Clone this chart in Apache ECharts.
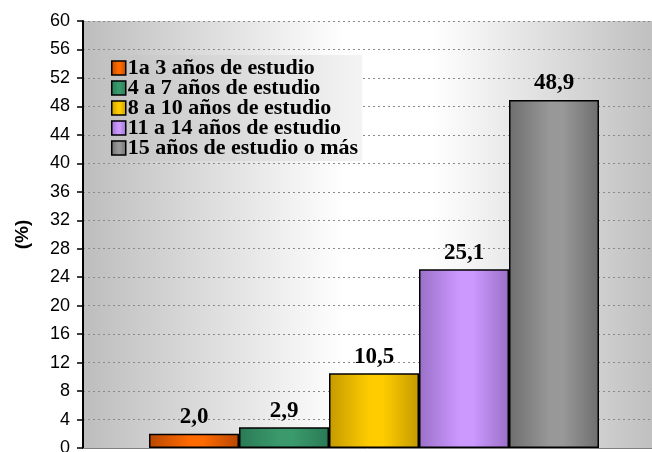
<!DOCTYPE html>
<html>
<head>
<meta charset="utf-8">
<script src="https://cdn.jsdelivr.net/npm/echarts@6/dist/echarts.min.js"></script>
<style>
	html, body { margin: 0; padding: 0; background: #fff; }
	#chart { width: 652px; height: 452px; }
</style>
</head>
<body>
<div id="chart"></div>
<script>
	// datos
	var categorias = ['1a 3 años de estudio', '4 a 7 años de estudio', '8 a 10 años de estudio', '11 a 14 años de estudio', '15 años de estudio o más'];
	var valores = [2.0, 2.9, 10.5, 25.1, 48.9];
	var ticksY = [0, 4, 8, 12, 16, 20, 24, 28, 32, 36, 40, 44, 48, 52, 56, 60];

	// colores: [borde oscuro, centro claro]
	var colores = [
		['#b84800', '#ff6a00'],
		['#2a7a55', '#3a9a6c'],
		['#c49a00', '#ffcc00'],
		['#9a70c8', '#cc99ff'],
		['#6e6e6e', '#989898']
	];

	function gradiente(c){
		return new echarts.graphic.LinearGradient(0, 0, 1, 0, [
			{ offset: 0, color: c[0] },
			{ offset: 0.45, color: c[1] },
			{ offset: 0.6, color: c[1] },
			{ offset: 1, color: c[0] }
		]);
	}

	var chart = echarts.init(document.getElementById('chart'));

	var series = categorias.map(function(nombre, i){
		return {
			name: nombre,
			type: 'bar',
			barWidth: 90,
			barGap: '0%',
			data: [valores[i]],
			itemStyle: {
				color: gradiente(colores[i]),
				borderColor: '#000',
				borderWidth: 1.5
			},
			label: {
				show: true,
				position: 'top',
				distance: 5,
				formatter: function(p){ return p.value.toFixed(1).replace('.', ','); },
				fontFamily: 'Liberation Serif',
				fontWeight: 'bold',
				fontSize: 23,
				color: '#000'
			}
		};
	});

	chart.setOption({
		animation: false,
		grid: {
			left: 83,
			top: 21,
			width: 582,
			bottom: 4,
			outerBoundsMode: 'none',
			containLabel: false,
			show: true,
			borderWidth: 0,
			backgroundColor: new echarts.graphic.LinearGradient(0, 0, 1, 0, [
				{ offset: 0, color: '#bdbdbd' },
				{ offset: 0.45, color: '#ffffff' },
				{ offset: 0.6, color: '#ffffff' },
				{ offset: 1, color: '#bcbcbc' }
			])
		},
		legend: {
			orient: 'vertical',
			left: 108,
			top: 55,
			icon: 'rect',
			itemWidth: 14,
			itemHeight: 14,
			itemGap: -2,
			padding: [2, 4, 2, 3],
			backgroundColor: new echarts.graphic.LinearGradient(0, 0, 1, 0, [
				{ offset: 0, color: '#c2c2c2' },
				{ offset: 1, color: '#f4f4f4' }
			]),
			data: categorias,
			textStyle: {
				fontFamily: 'Liberation Serif',
				fontWeight: 'bold',
				fontSize: 22,
				color: '#000',
				padding: [0, 0, 0, -3]
			},
			itemStyle: { borderColor: '#000', borderWidth: 1.5 }
		},
		xAxis: {
			type: 'category',
			data: [''],
			axisLine: { show: true, lineStyle: { color: '#808080', width: 1 } },
			axisTick: { show: false },
			axisLabel: { show: false }
		},
		yAxis: {
			type: 'value',
			min: ticksY[0],
			max: ticksY[ticksY.length - 1],
			interval: 4,
			name: '(%)',
			nameLocation: 'middle',
			nameGap: 51,
			nameRotate: 90,
			nameTextStyle: {
				fontFamily: 'Liberation Sans',
				fontWeight: 'bold',
				fontSize: 19,
				color: '#000'
			},
			axisLine: { show: true, lineStyle: { color: '#000', width: 2 } },
			axisTick: { show: true, length: 6, lineStyle: { color: '#000', width: 1.5 } },
			axisLabel: {
				margin: 13,
				fontFamily: 'Liberation Sans',
				fontSize: 18,
				color: '#000'
			},
			splitLine: {
				show: true,
				lineStyle: { color: '#8a8a8a', type: [2, 3], width: 1 }
			}
		},
		series: series
	});
</script>
</body>
</html>
